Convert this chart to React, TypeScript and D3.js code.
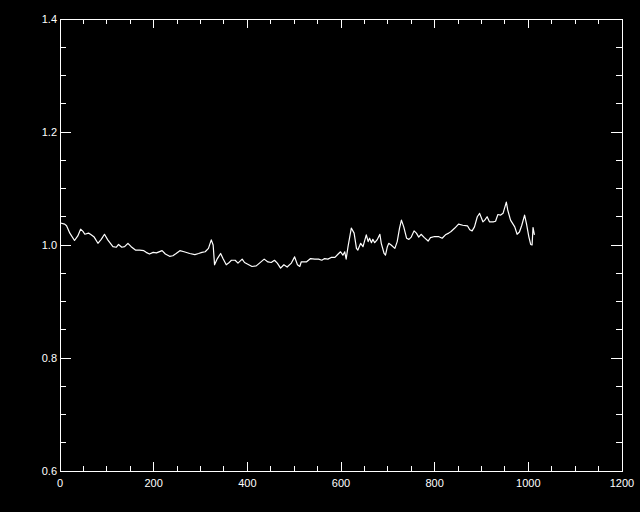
import React from "react";
import * as d3 from "d3";

// values
const xs = [1, 10, 14, 21, 31, 38, 44, 49, 53, 61, 65, 73, 81, 88, 95, 102, 113, 120, 125, 132, 138, 145, 152, 161, 170, 179, 184, 191, 199, 206, 218, 225, 234, 241, 248, 256, 265, 277, 288, 296, 303, 310, 317, 323, 327, 330, 336, 343, 348, 355, 360, 366, 374, 380, 389, 394, 403, 410, 419, 426, 436, 444, 451, 458, 464, 471, 478, 485, 494, 501, 507, 512, 515, 526, 535, 544, 552, 559, 565, 572, 579, 587, 594, 599, 604, 608, 611, 615, 622, 628, 633, 636, 642, 647, 654, 658, 661, 665, 668, 672, 677, 683, 686, 692, 695, 699, 702, 707, 715, 720, 725, 729, 734, 740, 745, 750, 756, 761, 766, 771, 778, 786, 791, 800, 808, 816, 823, 830, 835, 843, 851, 860, 870, 875, 880, 885, 891, 896, 903, 907, 912, 917, 925, 930, 935, 941, 946, 953, 956, 962, 971, 976, 981, 986, 992, 996, 1001, 1005, 1008, 1010, 1013];
const ys = [1.039, 1.037, 1.034, 1.021, 1.008, 1.016, 1.028, 1.024, 1.019, 1.021, 1.019, 1.014, 1.003, 1.010, 1.019, 1.009, 0.997, 0.996, 1.001, 0.996, 0.997, 1.003, 0.997, 0.991, 0.991, 0.990, 0.987, 0.984, 0.987, 0.986, 0.990, 0.984, 0.980, 0.981, 0.985, 0.990, 0.988, 0.985, 0.983, 0.985, 0.987, 0.988, 0.994, 1.009, 1.000, 0.965, 0.976, 0.985, 0.976, 0.965, 0.968, 0.973, 0.973, 0.968, 0.975, 0.969, 0.965, 0.962, 0.963, 0.968, 0.975, 0.970, 0.969, 0.973, 0.968, 0.959, 0.965, 0.961, 0.968, 0.979, 0.965, 0.962, 0.970, 0.970, 0.976, 0.975, 0.975, 0.973, 0.976, 0.975, 0.978, 0.978, 0.984, 0.988, 0.982, 0.988, 0.975, 0.997, 1.030, 1.021, 0.994, 0.991, 1.003, 0.997, 1.018, 1.006, 1.012, 1.004, 1.010, 1.004, 1.009, 1.019, 1.003, 0.985, 0.982, 0.997, 1.003, 1.000, 0.994, 1.006, 1.030, 1.044, 1.032, 1.012, 1.010, 1.014, 1.025, 1.021, 1.014, 1.019, 1.013, 1.007, 1.013, 1.015, 1.015, 1.012, 1.018, 1.021, 1.024, 1.030, 1.037, 1.035, 1.034, 1.027, 1.025, 1.032, 1.050, 1.056, 1.041, 1.044, 1.050, 1.041, 1.041, 1.042, 1.054, 1.053, 1.056, 1.076, 1.062, 1.044, 1.032, 1.019, 1.023, 1.035, 1.053, 1.038, 1.015, 1.001, 1.000, 1.031, 1.018];
const xTicks = [0, 200, 400, 600, 800, 1000, 1200];
const yTicks = [0.6, 0.8, 1.0, 1.2, 1.4];

const W = 640;
const H = 512;
const L = 60, R = 622, T = 19, B = 471;

export default function App() {
  const x = d3.scaleLinear().domain([0, 1200]).range([L, R]);
  const y = d3.scaleLinear().domain([0.6, 1.4]).range([B, T]);
  const line = d3.line<number>().x((_, i) => x(xs[i])).y((d) => y(d));

  const xLen = 0.02 * (B - T); // IDL-ish tick lengths
  const yLen = 0.02 * (R - L);
  const xMinor = d3.range(0, 1201, 50);
  const yMinor = d3.range(0, 17).map((i) => 0.6 + i * 0.05);
  const font = "'Liberation Sans', Arial, sans-serif";

  return (
    <svg width={W} height={H} style={{ position: "absolute", left: 0, top: 0, background: "#000" }}>
      <rect x={0} y={0} width={W} height={H} fill="#000" />
      <g stroke="#fff" strokeWidth={1} shapeRendering="crispEdges">
        <rect x={L} y={T} width={R - L} height={B - T} fill="none" />
        {xMinor.map((v) => {
          const len = v % 200 === 0 ? xLen : xLen / 2;
          return (
            <g key={"x" + v}>
              <line x1={x(v)} x2={x(v)} y1={B} y2={B - len} />
              <line x1={x(v)} x2={x(v)} y1={T} y2={T + len} />
            </g>
          );
        })}
        {yMinor.map((v, i) => {
          const len = i % 4 === 0 ? yLen : yLen / 2;
          return (
            <g key={"y" + i}>
              <line x1={L} x2={L + len} y1={y(v)} y2={y(v)} />
              <line x1={R} x2={R - len} y1={y(v)} y2={y(v)} />
            </g>
          );
        })}
      </g>
      <path d={line(ys) ?? ""} fill="none" stroke="#fff" strokeWidth={1.2} strokeLinejoin="round" />
      <g fill="#fff" fontFamily={font} fontSize={11}>
        {xTicks.map((v) => (
          <text key={v} x={x(v)} y={B + 16} textAnchor="middle">{v}</text>
        ))}
        {yTicks.map((v) => (
          <text key={v} x={L - 3} y={y(v) + 4} textAnchor="end">{v.toFixed(1)}</text>
        ))}
      </g>
    </svg>
  );
}
